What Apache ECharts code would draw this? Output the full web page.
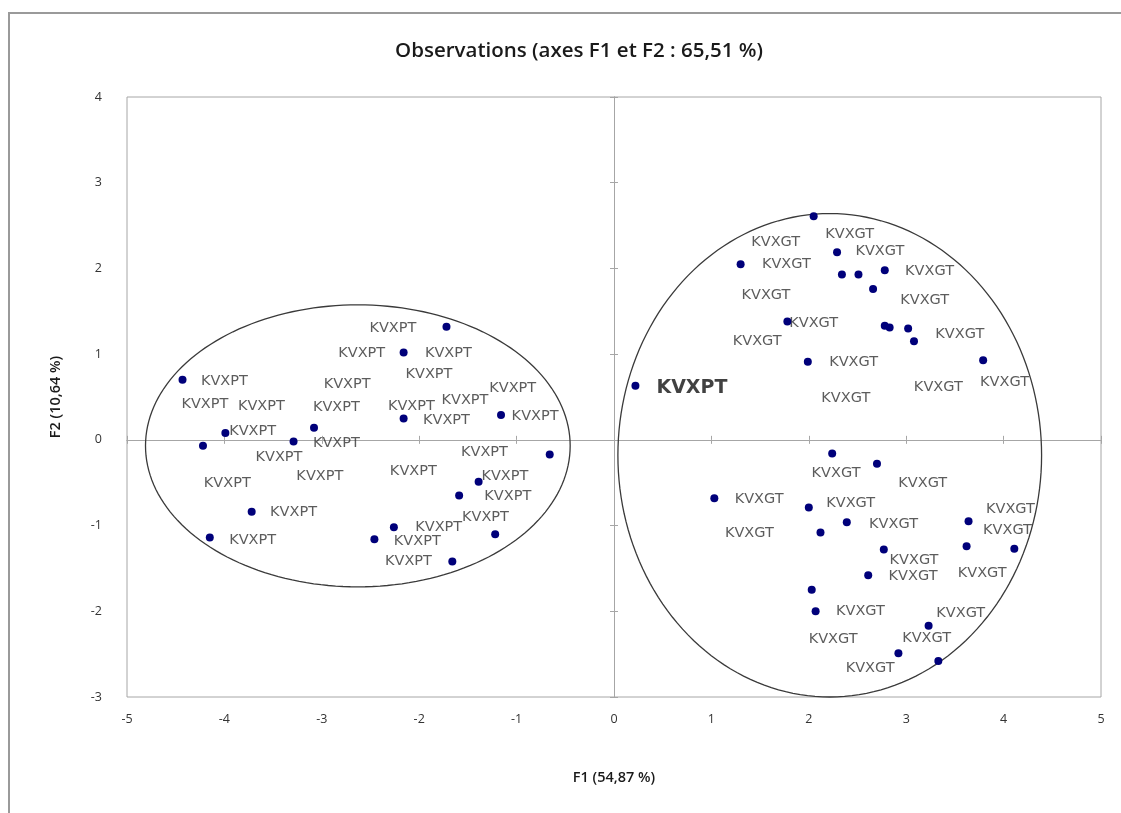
<!DOCTYPE html>
<html>
<head>
<meta charset="utf-8">
<script src="https://cdn.jsdelivr.net/npm/echarts@6/dist/echarts.min.js"></script>
<style>
html,body{margin:0;padding:0;background:#fff;}
#chart{width:1121px;height:813px;}
</style>
</head>
<body>
<div id="chart"></div>
<script>
// ---- Data (F1, F2 coordinates) ----
var title = 'Observations (axes F1 et F2 : 65,51 %)';
var xName = 'F1 (54,87 %)';
var yName = 'F2 (10,64 %)';
var xTicks = [-5, -4, -3, -2, -1, 0, 1, 2, 3, 4, 5];
var yTicks = [-3, -2, -1, 0, 1, 2, 3, 4];

// KVXPT observations
var kvxptPoints = [
  [-1.72, 1.32], [-2.16, 1.02], [-4.43, 0.70], [-2.16, 0.25], [-1.16, 0.29],
  [-3.08, 0.14], [-3.99, 0.08], [-4.22, -0.07], [-3.29, -0.02], [-0.66, -0.17],
  [-1.39, -0.49], [-1.59, -0.65], [-3.72, -0.84], [-2.26, -1.02], [-1.22, -1.10],
  [-4.15, -1.14], [-2.46, -1.16], [-1.66, -1.42]
];
// highlighted KVXPT observation
var kvxptHighlight = [[0.22, 0.63]];

// KVXGT observations
var kvxgtPoints = [
  [2.05, 2.61], [2.29, 2.19], [1.30, 2.05], [2.34, 1.93], [2.51, 1.93],
  [2.78, 1.98], [2.66, 1.76], [1.78, 1.38], [2.78, 1.33], [2.83, 1.31],
  [3.02, 1.30], [3.08, 1.15], [1.99, 0.91], [3.79, 0.93],
  [2.24, -0.16], [2.70, -0.28], [1.03, -0.68], [2.00, -0.79], [2.39, -0.96],
  [3.64, -0.95], [2.12, -1.08], [2.77, -1.28], [3.62, -1.24], [4.11, -1.27],
  [2.61, -1.58], [2.03, -1.75], [2.07, -2.00], [3.23, -2.17], [2.92, -2.49],
  [3.33, -2.58]
];

// label anchor positions (data units)
var kvxptLabels = [
  [-2.27, 1.30], [-2.59, 1.01], [-1.70, 1.01], [-1.90, 0.76], [-4.00, 0.68],
  [-2.74, 0.65], [-1.04, 0.60], [-4.20, 0.42], [-3.62, 0.39], [-2.85, 0.38],
  [-2.08, 0.39], [-1.53, 0.46], [-1.72, 0.23], [-0.81, 0.27], [-3.71, 0.10],
  [-2.85, -0.04], [-3.44, -0.20], [-1.33, -0.14], [-3.02, -0.43], [-2.06, -0.37],
  [-3.97, -0.51], [-1.12, -0.43], [-1.09, -0.66], [-3.29, -0.84], [-1.32, -0.90],
  [-1.80, -1.02], [-3.71, -1.17], [-2.02, -1.18], [-2.11, -1.42]
];
var kvxptHighlightLabel = [[0.80, 0.60]];
var kvxgtLabels = [
  [2.42, 2.40], [1.66, 2.31], [2.73, 2.20], [1.77, 2.05], [3.24, 1.97],
  [1.56, 1.69], [3.19, 1.63], [2.05, 1.36], [3.55, 1.23], [1.47, 1.15],
  [2.46, 0.90], [3.33, 0.61], [4.01, 0.67], [2.38, 0.49],
  [2.28, -0.39], [3.17, -0.51], [1.49, -0.69], [2.43, -0.74], [1.39, -1.09],
  [2.87, -0.98], [4.07, -0.81], [4.04, -1.06], [3.08, -1.40], [3.07, -1.59],
  [3.78, -1.56], [2.53, -2.00], [3.56, -2.02], [2.25, -2.33], [3.21, -2.32],
  [2.63, -2.66]
];

// confidence ellipses: [centerX, centerY, radiusX, radiusY]
var ellipses = [
  [-2.63, -0.07, 2.18, 1.645],
  [2.215, -0.18, 2.175, 2.82]
];

// ---- Chart ----
var chart = echarts.init(document.getElementById('chart'), null, {renderer: 'canvas'});

var labelFont = 'DejaVu Sans';
var pointColor = '#00007a';

function zeroAxis(inside) {
  return {
    type: 'value', min: -5, max: 5, interval: 1, position: 'bottom',
    axisLine: {show: true, onZero: true, lineStyle: {color: '#a6a6a6', width: 1}},
    axisTick: {show: true, inside: inside, length: 4, lineStyle: {color: '#a6a6a6'}},
    axisLabel: {show: false}, splitLine: {show: false}
  };
}
function zeroAxisY(inside) {
  return {
    type: 'value', min: -3, max: 4, interval: 1, position: 'left',
    axisLine: {show: true, onZero: true, lineStyle: {color: '#a6a6a6', width: 1}},
    axisTick: {show: true, inside: inside, length: 4, lineStyle: {color: '#a6a6a6'}},
    axisLabel: {show: false}, splitLine: {show: false}
  };
}

function labelSeries(name, data, text, fontSize, weight, color) {
  return {
    name: name, type: 'scatter', xAxisIndex: 0, yAxisIndex: 0,
    symbolSize: 0, silent: true, z: 4,
    data: data,
    label: {
      show: true, position: 'inside', formatter: text,
      fontFamily: labelFont, fontSize: fontSize, fontWeight: weight,
      color: color, align: 'center', verticalAlign: 'middle'
    }
  };
}

function pointSeries(name, data) {
  return {
    name: name, type: 'scatter', xAxisIndex: 0, yAxisIndex: 0,
    symbol: 'circle', symbolSize: 8, z: 5,
    itemStyle: {color: pointColor, opacity: 1},
    data: data
  };
}

var option = {
  backgroundColor: '#ffffff',
  animation: false,
  title: {
    text: title,
    left: 574, top: 36, textAlign: 'center',
    textStyle: {fontFamily: 'Open Sans', fontSize: 20.5, fontWeight: 600, color: '#1a1a1a'}
  },
  graphic: [{
    type: 'rect', silent: true,
    shape: {x: 9, y: 13, width: 1200, height: 900},
    style: {fill: 'none', stroke: '#9a9a9a', lineWidth: 2}
  }],
  grid: {
    left: 127, right: 20, top: 97, bottom: 116,
    show: true, borderColor: '#a6a6a6', borderWidth: 1, backgroundColor: 'transparent'
  },
  xAxis: [
    {
      type: 'value', min: -5, max: 5, interval: 1, position: 'bottom',
      axisLine: {show: false, onZero: false},
      axisTick: {show: false}, splitLine: {show: false},
      axisLabel: {margin: 16, fontFamily: 'Open Sans', fontSize: 12.5, color: '#333',
        customValues: xTicks},
      name: xName, nameLocation: 'middle', nameGap: 73,
      nameTextStyle: {fontFamily: 'Open Sans', fontSize: 14.5, fontWeight: 600, color: '#1a1a1a'}
    },
    zeroAxis(false),
    zeroAxis(true)
  ],
  yAxis: [
    {
      type: 'value', min: -3, max: 4, interval: 1, position: 'left',
      axisLine: {show: false, onZero: false},
      axisTick: {show: false}, splitLine: {show: false},
      axisLabel: {margin: 25, fontFamily: 'Open Sans', fontSize: 12.5, color: '#333',
        customValues: yTicks},
      name: yName, nameLocation: 'middle', nameGap: 64, nameRotate: 90,
      nameTextStyle: {fontFamily: 'Open Sans', fontSize: 14.5, fontWeight: 600, color: '#1a1a1a'}
    },
    zeroAxisY(false),
    zeroAxisY(true)
  ],
  series: [
    {
      name: 'ellipses', type: 'custom', xAxisIndex: 0, yAxisIndex: 0,
      silent: true, z: 2, clip: false,
      data: ellipses,
      renderItem: function (params, api) {
        var c = api.coord([api.value(0), api.value(1)]);
        var s = api.size([api.value(2), api.value(3)]);
        var pts = [];
        var n = 180;
        for (var i = 0; i < n; i++) {
          var t = 2 * Math.PI * i / n;
          pts.push([c[0] + s[0] * Math.cos(t), c[1] + s[1] * Math.sin(t)]);
        }
        return {
          type: 'polygon',
          shape: {points: pts},
          style: {fill: 'none', stroke: '#3a3a3a', lineWidth: 1.3}
        };
      }
    },
    pointSeries('KVXPT', kvxptPoints),
    pointSeries('KVXPT*', kvxptHighlight),
    pointSeries('KVXGT', kvxgtPoints),
    labelSeries('KVXPT labels', kvxptLabels, 'KVXPT', 14.5, 'normal', '#333333'),
    labelSeries('KVXGT labels', kvxgtLabels, 'KVXGT', 14.5, 'normal', '#333333'),
    labelSeries('KVXPT highlight label', kvxptHighlightLabel, 'KVXPT', 19, 'bold', '#111')
  ]
};

chart.setOption(option);
</script>
</body>
</html>
